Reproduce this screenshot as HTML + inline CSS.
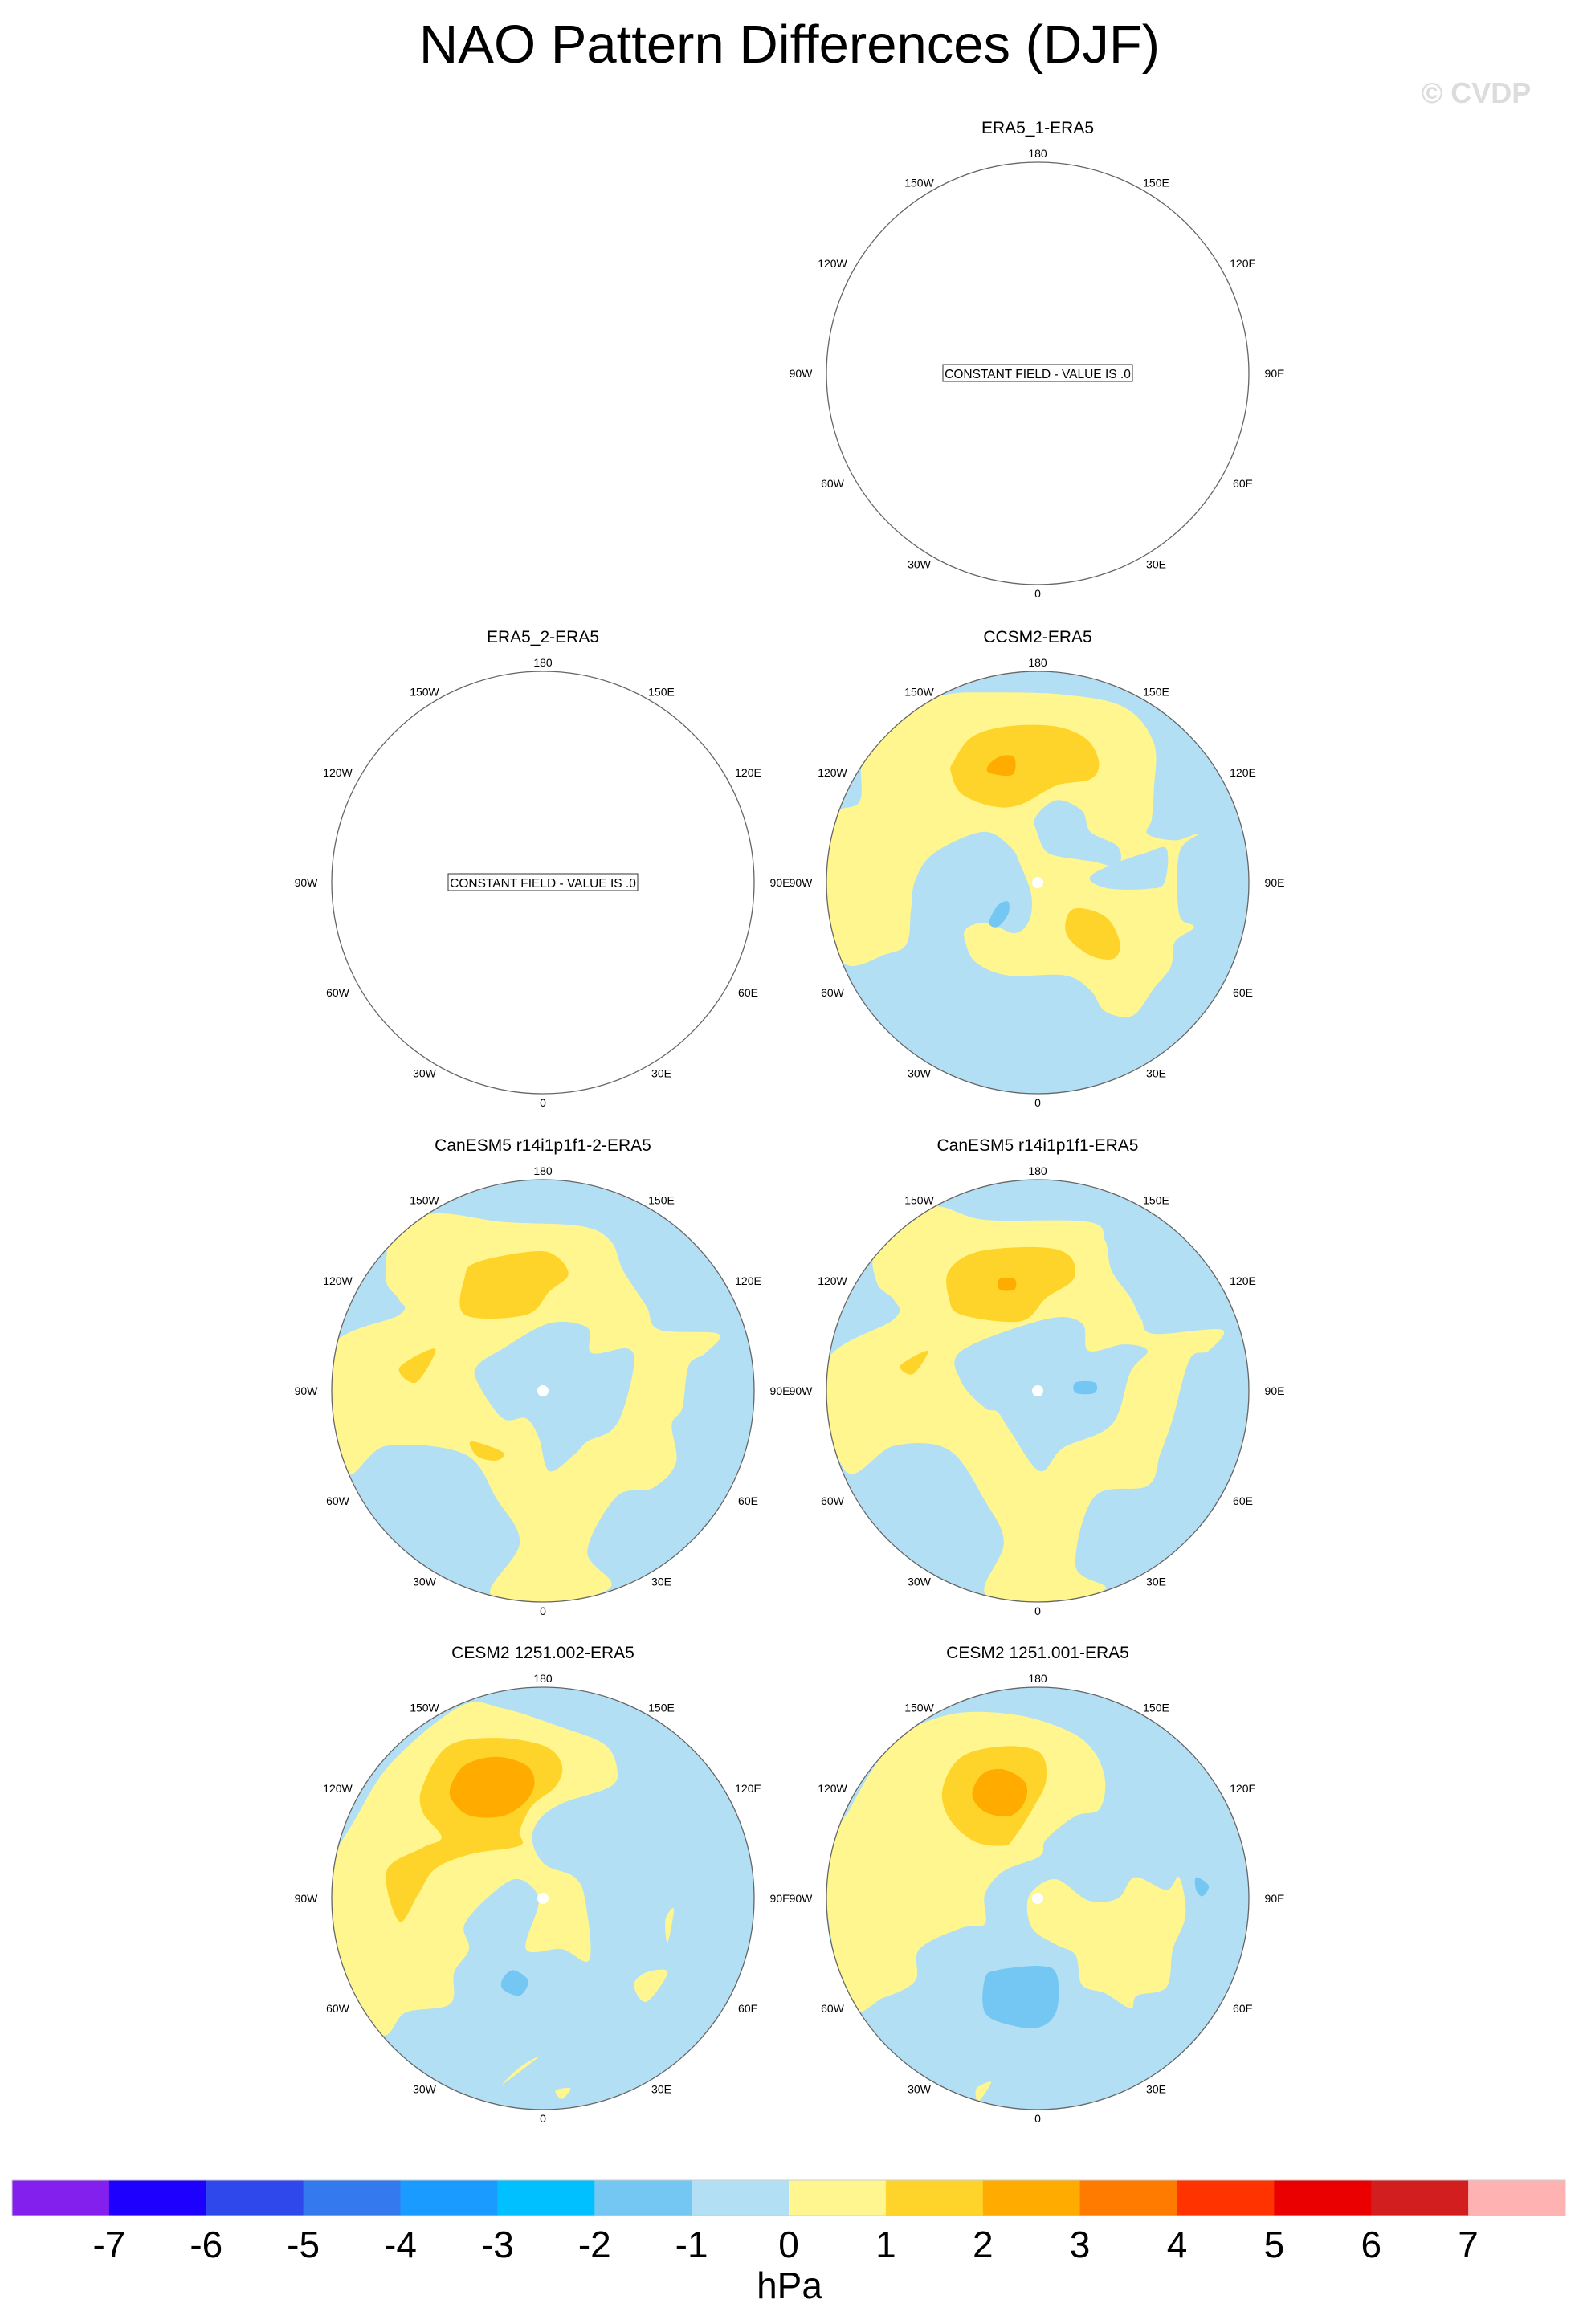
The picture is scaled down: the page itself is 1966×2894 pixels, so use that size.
<!DOCTYPE html>
<html><head><meta charset="utf-8"><style>
html,body{margin:0;padding:0;background:#fff;}
svg{display:block;font-family:"Liberation Sans",sans-serif;}
</style></head><body>
<svg id="fig" width="1966" height="2894" viewBox="0 0 1966 2894" xmlns="http://www.w3.org/2000/svg">
<text x="983" y="78" font-size="67" text-anchor="middle">NAO Pattern Differences (DJF)</text>
<text x="1838" y="128" font-size="36" font-weight="bold" fill="#dcdcdc" text-anchor="middle">© CVDP</text>
<g id="maps"></g>
<g id="cbar"></g>
</svg>
<script>
const NS='http://www.w3.org/2000/svg';
// colorbar data
const cbLevels=[-7,-6,-5,-4,-3,-2,-1,0,1,2,3,4,5,6,7];
const cbColors=['#8420ee','#1e00ff','#2e48ec','#3479ee','#1a9bff','#00c0ff','#74c7f3','#b3dff4','#fff68f','#ffd42a','#ffab00','#ff7b00','#ff3300','#ea0000','#d21e1e','#ffb2b2'];
const levelColor={'-2':'#74c7f3','-1':'#b3dff4','0':'#ffffff','1':'#fff68f','2':'#ffd42a','3':'#ffab00'};
const lonLabels=['0','30E','60E','90E','120E','150E','180','150W','120W','90W','60W','30W'];
const lonValues=[0,30,60,90,120,150,180,-150,-120,-90,-60,-30];
const panelTitles=['ERA5_1-ERA5','ERA5_2-ERA5','CCSM2-ERA5','CanESM5 r14i1p1f1-2-ERA5','CanESM5 r14i1p1f1-ERA5','CESM2 1251.002-ERA5','CESM2 1251.001-ERA5'];
const panelCols=[1,0,1,0,1,0,1];
const panelRows=[0,1,1,2,2,3,3];
const ccsm2Regions=[
[1,[[-0.94,-0.34],[-0.84,-0.39],[-0.82,-0.63],[-0.63,-0.82],[-0.43,-0.89],[-0.24,-0.9],[0.12,-0.89],[0.41,-0.83],[0.55,-0.66],[0.55,-0.44],[0.54,-0.3],[0.52,-0.23],[0.65,-0.2],[0.76,-0.23],[0.67,-0.14],[0.67,0.15],[0.74,0.21],[0.65,0.28],[0.63,0.4],[0.55,0.5],[0.45,0.63],[0.32,0.61],[0.25,0.51],[0.13,0.44],[-0.14,0.44],[-0.29,0.38],[-0.34,0.29],[-0.34,0.22],[-0.24,0.19],[-0.11,0.24],[-0.04,0.18],[-0.03,0.06],[-0.08,-0.08],[-0.13,-0.17],[-0.26,-0.24],[-0.49,-0.14],[-0.58,-0.01],[-0.6,0.13],[-0.62,0.29],[-0.72,0.34],[-0.92,0.38],[-1.02,0.06],[-1.0,-0.23]]],
[-1,[[-0.01,-0.31],[0.09,-0.39],[0.21,-0.34],[0.25,-0.24],[0.38,-0.17],[0.38,-0.08],[0.26,-0.1],[0.19,-0.11],[0.05,-0.14],[0,-0.23]]],
[-1,[[0.26,-0.04],[0.39,-0.1],[0.51,-0.14],[0.61,-0.16],[0.6,0],[0.52,0.03],[0.35,0.03],[0.26,0]]],
[2,[[-0.4,-0.57],[-0.31,-0.69],[-0.14,-0.74],[0.08,-0.74],[0.23,-0.68],[0.29,-0.57],[0.25,-0.49],[0.09,-0.46],[-0.08,-0.37],[-0.21,-0.36],[-0.36,-0.42],[-0.41,-0.52]]],
[3,[[-0.23,-0.56],[-0.17,-0.6],[-0.11,-0.59],[-0.12,-0.51],[-0.23,-0.52]]],
[2,[[0.16,0.13],[0.25,0.13],[0.34,0.18],[0.39,0.29],[0.36,0.36],[0.26,0.35],[0.16,0.28],[0.13,0.21]]],
[-2,[[-0.23,0.19],[-0.19,0.11],[-0.14,0.09],[-0.14,0.15],[-0.19,0.21]]]
];
const canLeftRegions=[
[1,[[-0.74,-0.64],[-0.71,-0.76],[-0.51,-0.84],[-0.19,-0.8],[0.18,-0.78],[0.32,-0.71],[0.38,-0.57],[0.49,-0.4],[0.55,-0.29],[0.83,-0.27],[0.77,-0.18],[0.69,-0.12],[0.66,0.08],[0.61,0.16],[0.63,0.34],[0.52,0.46],[0.35,0.5],[0.21,0.76],[0.32,0.93],[-0.02,1.02],[-0.25,0.96],[-0.11,0.72],[-0.22,0.51],[-0.37,0.3],[-0.74,0.26],[-0.94,0.38],[-1.02,-0.18],[-0.68,-0.36],[-0.68,-0.43],[-0.74,-0.51]]],
[-1,[[-0.19,-0.2],[0.03,-0.32],[0.21,-0.3],[0.23,-0.18],[0.4,-0.2],[0.43,-0.12],[0.38,0.09],[0.32,0.19],[0.21,0.24],[0.15,0.3],[0.03,0.38],[-0.02,0.22],[-0.08,0.13],[-0.19,0.13],[-0.31,-0.04],[-0.31,-0.12]]],
[2,[[-0.37,-0.54],[-0.31,-0.61],[-0.05,-0.66],[0.06,-0.64],[0.12,-0.55],[0.03,-0.47],[-0.08,-0.36],[-0.37,-0.36]]],
[2,[[-0.68,-0.11],[-0.51,-0.2],[-0.6,-0.04]]],
[2,[[-0.34,0.24],[-0.19,0.29],[-0.22,0.33],[-0.31,0.31]]]
];
const canRightRegions=[
[1,[[-0.76,-0.68],[-0.51,-0.87],[-0.25,-0.81],[0.24,-0.8],[0.32,-0.71],[0.35,-0.57],[0.44,-0.44],[0.49,-0.34],[0.55,-0.27],[0.87,-0.29],[0.81,-0.19],[0.72,-0.15],[0.64,0.13],[0.58,0.3],[0.52,0.45],[0.27,0.5],[0.18,0.83],[0.32,0.94],[0,1.02],[-0.25,0.96],[-0.16,0.72],[-0.25,0.52],[-0.42,0.28],[-0.68,0.26],[-0.91,0.38],[-1.01,-0.12],[-0.68,-0.34],[-0.68,-0.43],[-0.76,-0.51]]],
[-1,[[-0.36,-0.19],[0.04,-0.34],[0.21,-0.32],[0.24,-0.19],[0.41,-0.22],[0.52,-0.19],[0.44,-0.09],[0.35,0.16],[0.12,0.27],[0.01,0.38],[-0.13,0.19],[-0.19,0.1],[-0.25,0.08],[-0.36,-0.04]]],
[2,[[-0.42,-0.57],[-0.28,-0.66],[0.01,-0.68],[0.15,-0.64],[0.17,-0.53],[0.04,-0.44],[-0.08,-0.33],[-0.36,-0.36],[-0.42,-0.44]]],
[3,[[-0.18,-0.53],[-0.11,-0.53],[-0.11,-0.48],[-0.18,-0.48]]],
[2,[[-0.65,-0.12],[-0.52,-0.19],[-0.59,-0.08]]],
[-2,[[0.18,-0.04],[0.27,-0.04],[0.27,0.01],[0.18,0.01]]]
];
const cesmLeftRegions=[
[1,[[-1.02,-0.1],[-0.88,-0.39],[-0.71,-0.65],[-0.39,-0.91],[-0.19,-0.9],[0.09,-0.81],[0.29,-0.73],[0.35,-0.62],[0.32,-0.53],[0.09,-0.45],[-0.02,-0.37],[-0.05,-0.27],[0.01,-0.16],[0.15,-0.1],[0.2,0.01],[0.22,0.29],[0.09,0.24],[-0.08,0.24],[-0.02,0.01],[-0.11,-0.09],[-0.22,-0.04],[-0.37,0.12],[-0.35,0.24],[-0.42,0.35],[-0.44,0.5],[-0.65,0.54],[-0.77,0.64],[-0.98,0.29]]],
[2,[[-0.57,-0.53],[-0.45,-0.72],[-0.22,-0.76],[0.01,-0.72],[0.09,-0.63],[0.06,-0.53],[-0.05,-0.44],[-0.11,-0.32],[-0.11,-0.25],[-0.34,-0.21],[-0.51,-0.14],[-0.59,-0.02],[-0.68,0.11],[-0.74,-0.13],[-0.57,-0.24],[-0.48,-0.29],[-0.57,-0.41]]],
[3,[[-0.44,-0.52],[-0.37,-0.63],[-0.22,-0.67],[-0.08,-0.63],[-0.04,-0.55],[-0.08,-0.46],[-0.19,-0.39],[-0.34,-0.39],[-0.42,-0.45]]],
[-2,[[-0.19,0.38],[-0.14,0.34],[-0.07,0.39],[-0.11,0.46],[-0.19,0.43]]],
[1,[[-0.11,0.8],[-0.02,0.75],[-0.19,0.88]]],
[1,[[0.06,0.91],[0.13,0.9],[0.09,0.95]]],
[1,[[0.49,0.35],[0.59,0.35],[0.49,0.49],[0.43,0.41]]],
[1,[[0.58,0.1],[0.62,0.05],[0.59,0.21]]]
];
const cesmRightRegions=[
[1,[[-1.01,-0.13],[-0.88,-0.44],[-0.68,-0.74],[-0.42,-0.87],[-0.11,-0.87],[0.15,-0.79],[0.27,-0.69],[0.32,-0.55],[0.29,-0.42],[0.18,-0.39],[0.04,-0.28],[0.01,-0.2],[-0.16,-0.13],[-0.25,-0.02],[-0.25,0.12],[-0.36,0.14],[-0.56,0.24],[-0.58,0.39],[-0.73,0.47],[-0.9,0.5]]],
[1,[[-0.02,-0.04],[0.09,-0.09],[0.24,0.01],[0.38,0],[0.46,-0.1],[0.61,-0.04],[0.67,-0.1],[0.7,0.08],[0.64,0.24],[0.61,0.42],[0.47,0.46],[0.44,0.52],[0.32,0.45],[0.21,0.41],[0.18,0.27],[0.09,0.22],[-0.02,0.15],[-0.05,0.04]]],
[2,[[-0.45,-0.52],[-0.36,-0.67],[-0.16,-0.72],[0.01,-0.69],[0.04,-0.56],[-0.02,-0.43],[-0.11,-0.29],[-0.16,-0.25],[-0.3,-0.27],[-0.42,-0.38]]],
[3,[[-0.31,-0.49],[-0.26,-0.59],[-0.16,-0.61],[-0.06,-0.55],[-0.06,-0.46],[-0.13,-0.39],[-0.25,-0.41]]],
[-2,[[-0.25,0.38],[-0.19,0.34],[0.01,0.32],[0.09,0.36],[0.09,0.53],[0.01,0.61],[-0.13,0.6],[-0.25,0.54]]],
[-2,[[0.75,-0.1],[0.81,-0.06],[0.78,-0.01],[0.75,-0.04]]],
[1,[[-0.29,0.9],[-0.22,0.87],[-0.28,0.96]]]
];
const panelRegions=[null,null,ccsm2Regions,canLeftRegions,canRightRegions,cesmLeftRegions,cesmRightRegions];

const colX=[676,1292], rowY=[465,1099,1732,2364], R=263;
const maps=document.getElementById('maps');
function mk(tag,attrs,parent){const e=document.createElementNS(NS,tag);for(const k in attrs)e.setAttribute(k,attrs[k]);if(parent)parent.appendChild(e);return e;}
function smoothPath(pts){
  const n=pts.length;let d='M'+pts[0][0].toFixed(1)+','+pts[0][1].toFixed(1);
  for(let i=0;i<n;i++){const p0=pts[(i-1+n)%n],p1=pts[i],p2=pts[(i+1)%n],p3=pts[(i+2)%n];
    const c1=[p1[0]+(p2[0]-p0[0])/6,p1[1]+(p2[1]-p0[1])/6],c2=[p2[0]-(p3[0]-p1[0])/6,p2[1]-(p3[1]-p1[1])/6];
    d+='C'+c1[0].toFixed(1)+','+c1[1].toFixed(1)+' '+c2[0].toFixed(1)+','+c2[1].toFixed(1)+' '+p2[0].toFixed(1)+','+p2[1].toFixed(1);}
  return d+'Z';}
panelTitles.forEach((t,i)=>{
  const cx=colX[panelCols[i]], cy=rowY[panelRows[i]];
  const g=mk('g',{},maps);
  
  
  const tt=mk('text',{x:cx,y:cy-R-36,'font-size':21,'text-anchor':'middle'},g);tt.textContent=t;
  
  
  const cid='clip'+i;
  const cp=mk('clipPath',{id:cid},g);mk('circle',{cx:cx,cy:cy,r:R},cp);
  const regs=panelRegions[i];
  const fg=mk('g',{'clip-path':'url(#'+cid+')'},g);
  
  
  mk('circle',{cx:cx,cy:cy,r:R,fill:regs?levelColor['-1']:'#ffffff'},fg);
  if(regs){
    regs.forEach(rg=>{
      const pts=rg[1].map(p=>[cx+p[0]*R,cy+p[1]*R]);
      const p=mk('path',{d:smoothPath(pts),fill:levelColor[String(rg[0])]},fg);
      
      
    });
    const pole=mk('circle',{cx:cx,cy:cy,r:7,fill:'#ffffff'},fg);
    
    
  }
  const rim=mk('circle',{cx:cx,cy:cy,r:R,fill:'none',stroke:'#666','stroke-width':1.3},g);
  
  
  lonValues.forEach((lv,j)=>{
    const a=lv*Math.PI/180;
    const lx=cx+Math.sin(a)*(R+32), ly=cy+Math.cos(a)*(R+11);
    const lt=mk('text',{x:lx.toFixed(1),y:(ly+5).toFixed(1),'font-size':14,'text-anchor':'middle'},g);
    lt.textContent=lonLabels[j];
    
    
  });
  if(!regs){
    const bx=mk('rect',{x:cx-118,y:cy-11,width:236,height:21,fill:'#fff',stroke:'#333','stroke-width':1},g);
    
    
    const ct=mk('text',{x:cx,y:cy+6,'font-size':15.5,'text-anchor':'middle'},g);
    ct.textContent='CONSTANT FIELD - VALUE IS .0';
    
    
  }
});
const cb=document.getElementById('cbar');
const x0=15,x1=1949,cy0=2715,ch=44,bw=(x1-x0)/cbColors.length;
cbColors.forEach((c,i)=>{
  const r=mk('rect',{x:(x0+i*bw).toFixed(1),y:cy0,width:(bw+0.5).toFixed(1),height:ch,fill:c},cb);
  
  
});
mk('rect',{x:x0,y:cy0,width:x1-x0,height:ch,fill:'none',stroke:'#ccc','stroke-width':1},cb);
cbLevels.forEach((v,i)=>{
  const t=mk('text',{x:(x0+(i+1)*bw).toFixed(1),y:2811,'font-size':46,'text-anchor':'middle'},cb);
  t.textContent=String(v);
  
  
});
const u=mk('text',{x:983,y:2862,'font-size':46,'text-anchor':'middle'},cb);
u.textContent='hPa';


</script>
</body></html>
